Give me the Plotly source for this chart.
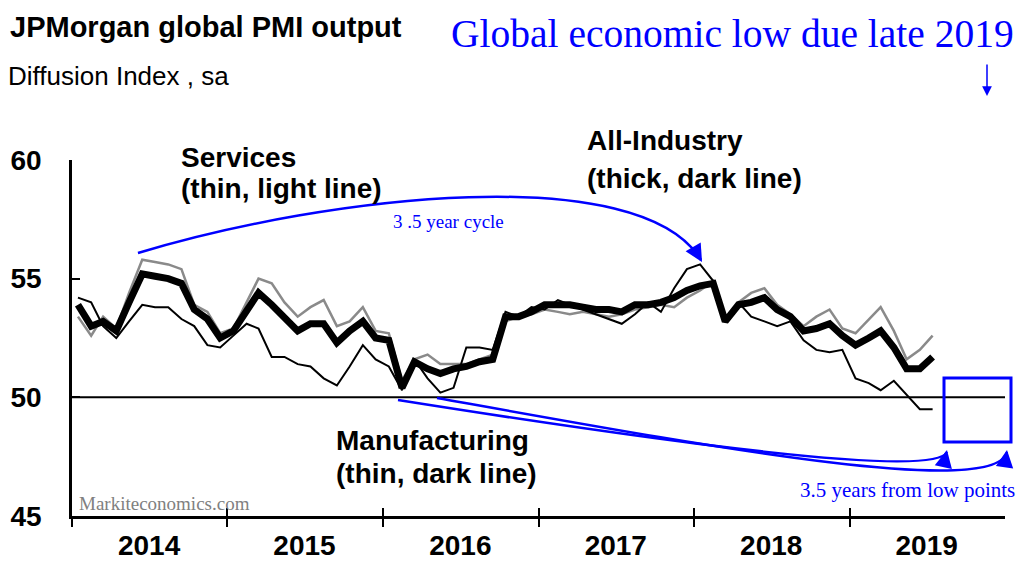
import plotly.graph_objects as go

# monthly readings, Jan 2014 - Jul 2019
months = [f"{y}-{m:02d}-15" for y in range(2014, 2020) for m in range(1, 13)][:67]

all_industry = [53.9, 53.0, 53.2, 52.8, 54.0, 55.2, 55.1, 55.0, 54.8, 53.7, 53.3, 52.5,
                52.8, 53.6, 54.4, 53.9, 53.4, 52.8, 53.1, 53.1, 52.3, 52.8, 53.2, 52.5,
                52.4, 50.4, 51.5, 51.2, 51.0, 51.2, 51.3, 51.5, 51.6, 53.4, 53.4, 53.6,
                53.9, 53.9, 53.9, 53.8, 53.7, 53.7, 53.6, 53.9, 53.9, 54.0, 54.2, 54.5,
                54.7, 54.8, 53.2, 53.9, 54.0, 54.2, 53.7, 53.4, 52.8, 52.9, 53.1, 52.6,
                52.2, 52.5, 52.8, 52.1, 51.2, 51.2, 51.7]

services = [53.4, 52.6, 53.4, 52.9, 54.4, 55.8, 55.7, 55.6, 55.4, 53.9, 53.6, 52.7,
            52.9, 54.0, 55.0, 54.8, 54.0, 53.4, 53.8, 54.1, 53.0, 53.2, 53.8, 52.8,
            52.7, 50.7, 51.6, 51.8, 51.4, 51.4, 51.4, 51.6, 51.8, 53.2, 53.4, 53.5,
            53.7, 53.6, 53.5, 53.6, 53.5, 53.4, 53.5, 53.7, 53.8, 53.9, 53.8, 54.2,
            54.5, 54.9, 53.2, 54.0, 54.4, 54.6, 53.9, 53.5, 53.0, 53.4, 53.7, 52.9,
            52.7, 53.3, 53.8, 52.8, 51.6, 52.0, 52.6]

manufacturing = [54.2, 54.0, 53.0, 52.5, 53.2, 53.9, 53.8, 53.8, 53.3, 53.0, 52.2, 52.1,
                 52.6, 53.1, 52.9, 51.7, 51.7, 51.4, 51.3, 50.8, 50.5, 51.3, 52.2, 51.6,
                 51.3, 50.3, 51.6, 50.8, 50.2, 50.4, 52.1, 52.1, 52.0, 53.6, 53.4, 53.8,
                 53.7, 54.1, 53.9, 53.7, 53.5, 53.3, 53.1, 53.5, 54.0, 53.6, 54.6, 55.4,
                 55.6, 54.9, 53.2, 54.0, 53.4, 53.2, 53.0, 53.2, 52.4, 52.0, 51.9, 52.0,
                 50.8, 50.6, 50.3, 50.7, 50.1, 49.5, 49.5]

years = ["2014", "2015", "2016", "2017", "2018", "2019"]
year_mid = [f"{y}-07-01" for y in years]
year_start = [f"{y}-01-01" for y in years]
x_range = ["2014-01-01", "2020-01-01"]
y_ticks = [45, 50, 55, 60]

SANS = "Liberation Sans, Arial, sans-serif"
SERIF = "Liberation Serif, Times New Roman, serif"
BLUE = "#0000ff"

# plot area in page pixels; the page body adds an 8px margin around the figure
L, R, T, B = 72, 1005, 160, 516
OFF = 8
FIG_W, FIG_H = 1024 - OFF, 563 - OFF


def px(x, y):
    return (x - L) / (R - L), (B - y) / (B - T)


def path(start, *curves):
    s = "M %.4f,%.4f" % px(*start)
    for c in curves:
        pts = [px(*p) for p in c]
        s += " C " + " ".join("%.4f,%.4f" % p for p in pts)
    return s


fig = go.Figure()
fig.add_trace(go.Scatter(x=months, y=services, mode='lines', name='Services',
                         line=dict(color='#8a8a8a', width=2.5)))
fig.add_trace(go.Scatter(x=months, y=all_industry, mode='lines', name='All-Industry',
                         line=dict(color='black', width=7)))
fig.add_trace(go.Scatter(x=months, y=manufacturing, mode='lines', name='Manufacturing',
                         line=dict(color='black', width=2)))
# empty trace so the overlay axis (upper half of the year ticks) gets drawn
fig.add_trace(go.Scatter(x=x_range, y=[None, None], xaxis='x2', mode='lines',
                         hoverinfo='skip', showlegend=False))

shapes = [
    dict(type='line', xref='paper', x0=0, x1=1, yref='y', y0=50, y1=50,
         line=dict(color='black', width=2)),
    dict(type='rect', xref='paper', yref='paper',
         x0=px(944, 0)[0], x1=px(1011, 0)[0], y0=px(0, 442)[1], y1=px(0, 378)[1],
         line=dict(color=BLUE, width=3)),
    dict(type='path', xref='paper', yref='paper',
         path=path((138, 253), [(330, 195), (640, 160), (701, 260)]),
         line=dict(color=BLUE, width=2.5)),
    dict(type='path', xref='paper', yref='paper',
         path=path((398, 400), [(650, 440), (935, 480), (947, 452)]),
         line=dict(color=BLUE, width=2.5)),
    dict(type='path', xref='paper', yref='paper',
         path=path((437, 398), [(700, 445), (995, 500), (1007, 452)]),
         line=dict(color=BLUE, width=2.5)),
]


def note(x, y, text, size, color='black', family=SANS, anchor='left'):
    # annotations carry a few px of padding round the text
    x = x - 3 if anchor == 'left' else x + 3
    xp, yp = px(x, y)
    return dict(x=xp, y=yp, xref='paper', yref='paper', text=text, showarrow=False,
                xanchor=anchor, yanchor='middle', font=dict(family=family, size=size, color=color))


def head(x, y, ax, ay, width=2.5, size=1.4):
    xp, yp = px(x, y)
    return dict(x=xp, y=yp, xref='paper', yref='paper', text='', showarrow=True,
                ax=ax, ay=ay, arrowhead=2, arrowsize=size, arrowwidth=width,
                arrowcolor=BLUE, standoff=0)


annotations = [
    note(11, 27, "<b>JPMorgan global PMI output</b>", 29),
    note(9, 76, "Diffusion Index , sa", 26),
    note(452, 34, "Global economic low due late 2019", 39.5, BLUE, SERIF),
    note(182, 157, "<b>Services</b>", 28),
    note(182, 188, "<b>(thin, light line)</b>", 28),
    note(588, 141, "<b>All-Industry</b>", 28),
    note(588, 178, "<b>(thick, dark line)</b>", 28),
    note(337, 440, "<b>Manufacturing</b>", 28),
    note(337, 473, "<b>(thin, dark line)</b>", 28),
    note(394, 221, "3 .5 year cycle", 19, BLUE, SERIF),
    note(80, 503, "Markiteconomics.com", 19, '#808080', SERIF),
    note(1014, 490, "3.5 years from low points", 21, BLUE, SERIF, 'right'),
    head(987, 96, 0, -33, width=1.5, size=1.3),
    head(702, 262, -7, -12),
    head(947, 450, -3, 14),
    head(1007, 450, -2, 14),
]

fig.update_layout(
    width=FIG_W, height=FIG_H,
    margin=dict(l=L - OFF, r=1024 - R, t=T - OFF, b=563 - B),
    paper_bgcolor='white', plot_bgcolor='white',
    showlegend=False,
    shapes=shapes,
    annotations=annotations,
    xaxis=dict(type='date', range=x_range, showgrid=False, zeroline=False, automargin=False,
               showline=True, linecolor='black', linewidth=3,
               tickmode='array', tickvals=year_mid, ticktext=years, ticks='',
               tickfont=dict(family=SANS, size=28, color='black', weight='bold'),
               ticklabelstandoff=2,
               minor=dict(tickmode='array', tickvals=year_start, ticks='outside',
                          ticklen=8, tickwidth=2, tickcolor='black')),
    xaxis2=dict(type='date', range=x_range, overlaying='x', anchor='y', side='bottom',
                showgrid=False, zeroline=False, showline=False, showticklabels=False,
                automargin=False,
                tickmode='array', tickvals=year_start[1:], ticks='inside',
                ticklen=8, tickwidth=2, tickcolor='black'),
    yaxis=dict(range=[45, 60], showgrid=False, zeroline=False, automargin=False,
               showline=True, linecolor='black', linewidth=2.5,
               tickmode='array', tickvals=y_ticks, ticks='inside',
               ticklen=8, tickwidth=2, tickcolor='black',
               tickfont=dict(family=SANS, size=28, color='black', weight='bold'),
               ticklabelstandoff=22),
)

fig.write_html("out.html")
